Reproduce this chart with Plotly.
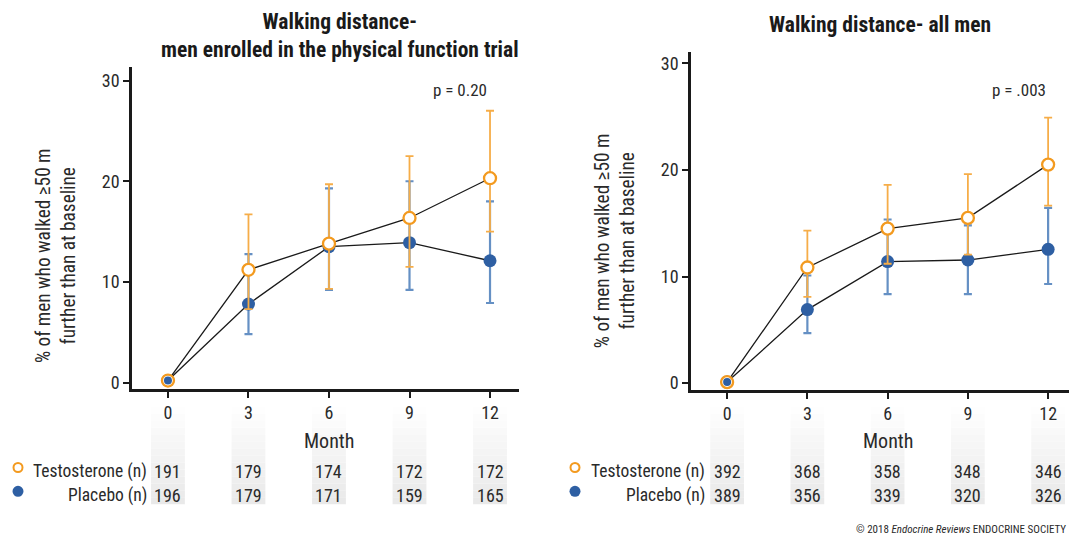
import plotly.graph_objects as go

W, H = 1069, 538
FONT = "Roboto Condensed, Liberation Sans Narrow, DejaVu Sans Condensed, Roboto, Arial"
TXT = "#2a2a2a"
ORANGE = "#f39a1f"
BLUE = "#2e5fa3"
DY = 3  # visual centring offset for text

months = [0, 3, 6, 9, 12]

# Left panel: men enrolled in the physical function trial
l_testo = [0.2, 11.2, 13.8, 16.35, 20.3]
l_testo_hi = [0.2, 16.7, 19.7, 22.5, 27.0]
l_testo_lo = [0.2, 7.3, 9.3, 11.5, 15.0]
l_plac = [0.2, 7.8, 13.5, 13.9, 12.1]
l_plac_hi = [0.2, 12.75, 19.3, 20.0, 18.0]
l_plac_lo = [0.2, 4.8, 9.2, 9.2, 7.9]
l_n_testo = [191, 179, 174, 172, 172]
l_n_plac = [196, 179, 171, 159, 165]

# Right panel: all men
r_testo = [0.1, 10.85, 14.5, 15.5, 20.5]
r_testo_hi = [0.1, 14.3, 18.6, 19.6, 24.9]
r_testo_lo = [0.1, 8.1, 11.2, 12.05, 16.65]
r_plac = [0.1, 6.9, 11.4, 11.55, 12.55]
r_plac_hi = [0.1, 10.1, 15.35, 14.8, 16.45]
r_plac_lo = [0.1, 4.7, 8.35, 8.35, 9.3]
r_n_testo = [392, 368, 358, 348, 346]
r_n_plac = [389, 356, 339, 320, 326]

title_left = "Walking distance-<br>men enrolled in the physical function trial"
title_right = "Walking distance- all men"
p_texts = ["p = 0.20", "p = .003"]
ytitle = "% of men who walked \u226550 m<br>further than at baseline"
xtitle = "Month"
row_labels = ["Testosterone (n)", "Placebo (n)"]

fig = go.Figure()


def px_x(p):
    return p / W


def px_y(p):
    return 1 - p / H


def fnt(size, color=TXT):
    return dict(family=FONT, size=size, color=color)


panels = [
    dict(xa="x", ya="y", t=l_testo, th=l_testo_hi, tl=l_testo_lo,
         p=l_plac, ph=l_plac_hi, pl=l_plac_lo),
    dict(xa="x2", ya="y2", t=r_testo, th=r_testo_hi, tl=r_testo_lo,
         p=r_plac, ph=r_plac_hi, pl=r_plac_lo),
]

for pn in panels:
    # placebo
    fig.add_trace(go.Scatter(
        x=months, y=pn["p"], xaxis=pn["xa"], yaxis=pn["ya"], mode="lines+markers",
        line=dict(color="#1a1a1a", width=1.3),
        marker=dict(color=BLUE, size=13, line=dict(width=0)),
        error_y=dict(type="data", symmetric=False,
                     array=[h - v for h, v in zip(pn["ph"], pn["p"])],
                     arrayminus=[v - l for l, v in zip(pn["pl"], pn["p"])],
                     color="#6590c4", thickness=2.2, width=4),
        showlegend=False, cliponaxis=False))
    # testosterone
    fig.add_trace(go.Scatter(
        x=months, y=pn["t"], xaxis=pn["xa"], yaxis=pn["ya"], mode="lines+markers",
        line=dict(color="#1a1a1a", width=1.3),
        marker=dict(color="white", size=12, symbol="circle",
                    line=dict(color=ORANGE, width=2.3)),
        error_y=dict(type="data", symmetric=False,
                     array=[h - v for h, v in zip(pn["th"], pn["t"])],
                     arrayminus=[v - l for l, v in zip(pn["tl"], pn["t"])],
                     color="#f6ad48", thickness=1.8, width=4),
        showlegend=False, cliponaxis=False))

# month 0 placebo dot drawn on top of the testosterone ring
for pn in panels:
    fig.add_trace(go.Scatter(
        x=months[:1], y=pn["p"][:1], xaxis=pn["xa"], yaxis=pn["ya"], mode="markers",
        marker=dict(color=BLUE, size=8, line=dict(width=0)),
        showlegend=False, cliponaxis=False, hoverinfo="skip"))

axis_common = dict(showgrid=False, zeroline=False, showline=True, linecolor="#1a1a1a",
                   linewidth=2.5, ticks="outside", ticklen=6, tickwidth=1.5,
                   tickcolor="#1a1a1a", tickfont=fnt(18))

fig.update_layout(
    width=W, height=H, margin=dict(l=0, r=0, t=0, b=0),
    paper_bgcolor="white", plot_bgcolor="white",
    xaxis=dict(domain=[px_x(132), px_x(519)], range=[-1.34, 13.08], tickvals=months,
               anchor="y", **axis_common),
    yaxis=dict(domain=[px_y(392), px_y(68)], range=[-0.65, 31.3], tickvals=[0, 10, 20, 30],
               anchor="x", **axis_common),
    xaxis2=dict(domain=[px_x(691), 1.0], range=[-1.35, 12.78], tickvals=months,
                anchor="y2", **axis_common),
    yaxis2=dict(domain=[px_y(393), px_y(52)], range=[-0.65, 31.1], tickvals=[0, 10, 20, 30],
                anchor="x2", **axis_common),
)

ann = []
shapes = []


def txt(text, xpx, ypx, size, xanchor="center", color=TXT, xref="paper", xval=None):
    ann.append(dict(text=text, x=(px_x(xpx) if xval is None else xval), y=px_y(ypx + DY),
                    xref=xref, yref="paper", showarrow=False, font=fnt(size, color),
                    xanchor=xanchor, yanchor="middle"))


# Titles
txt("<b>" + title_left + "</b>", 340, 33, 21.5, color="#1a1a1a")
txt("<b>" + title_right + "</b>", 880, 22, 21.5, color="#1a1a1a")
# p-values
txt(p_texts[0], 460, 88, 17)
txt(p_texts[1], 1019, 88, 17)
# Y titles
for cx, cy in [(56, 258), (615, 243)]:
    ann.append(dict(text=ytitle, x=px_x(cx), y=px_y(cy), xref="paper", yref="paper", showarrow=False,
                    textangle=-90, font=fnt(19.3), xanchor="center", yanchor="middle"))

# Table / shaded columns per panel
table_cfg = [("x", 149, 18, l_n_testo, l_n_plac), ("x2", 707, 575, r_n_testo, r_n_plac)]
nb = 14
for xr, lab_right, mk_x, nt, npl in table_cfg:
    for k, m in enumerate(months):
        for i in range(nb):
            y0 = 410 + (508 - 410) * i / nb
            y1 = 410 + (508 - 410) * (i + 1) / nb
            g = int(255 - 22 * (i + 0.5) / nb)
            shapes.append(dict(type="rect", xref=xr, yref="paper", x0=m - 0.63, x1=m + 0.63,
                               y0=px_y(y1), y1=px_y(y0), line=dict(width=0),
                               fillcolor=f"rgb({g},{g},{g})", layer="below"))
        txt(str(nt[k]), 0, 472, 18, xref=xr, xval=m)
        txt(str(npl[k]), 0, 496, 18, xref=xr, xval=m)
    txt(xtitle, 0, 441, 20, xref=xr, xval=6)
    for lab, yy in zip(row_labels, [472, 496]):
        txt(lab, lab_right, yy, 17.5, xanchor="right")
    shapes.append(dict(type="circle", xref="paper", yref="paper", xsizemode="pixel", ysizemode="pixel",
                       xanchor=px_x(mk_x), yanchor=px_y(471), x0=-4.5, x1=4.5, y0=-4.5, y1=4.5,
                       line=dict(color=ORANGE, width=2), fillcolor="white"))
    shapes.append(dict(type="circle", xref="paper", yref="paper", xsizemode="pixel", ysizemode="pixel",
                       xanchor=px_x(mk_x), yanchor=px_y(495), x0=-5.5, x1=5.5, y0=-5.5, y1=5.5,
                       line=dict(width=0), fillcolor=BLUE))

txt("\u00a9 2018 <i>Endocrine Reviews</i> ENDOCRINE SOCIETY", 1068, 530, 11, xanchor="right")

fig.update_layout(annotations=ann, shapes=shapes)
fig.write_html("out.html", config={"displayModeBar": False},
               post_script="document.body.style.margin='0';document.body.style.overflow='hidden';")
